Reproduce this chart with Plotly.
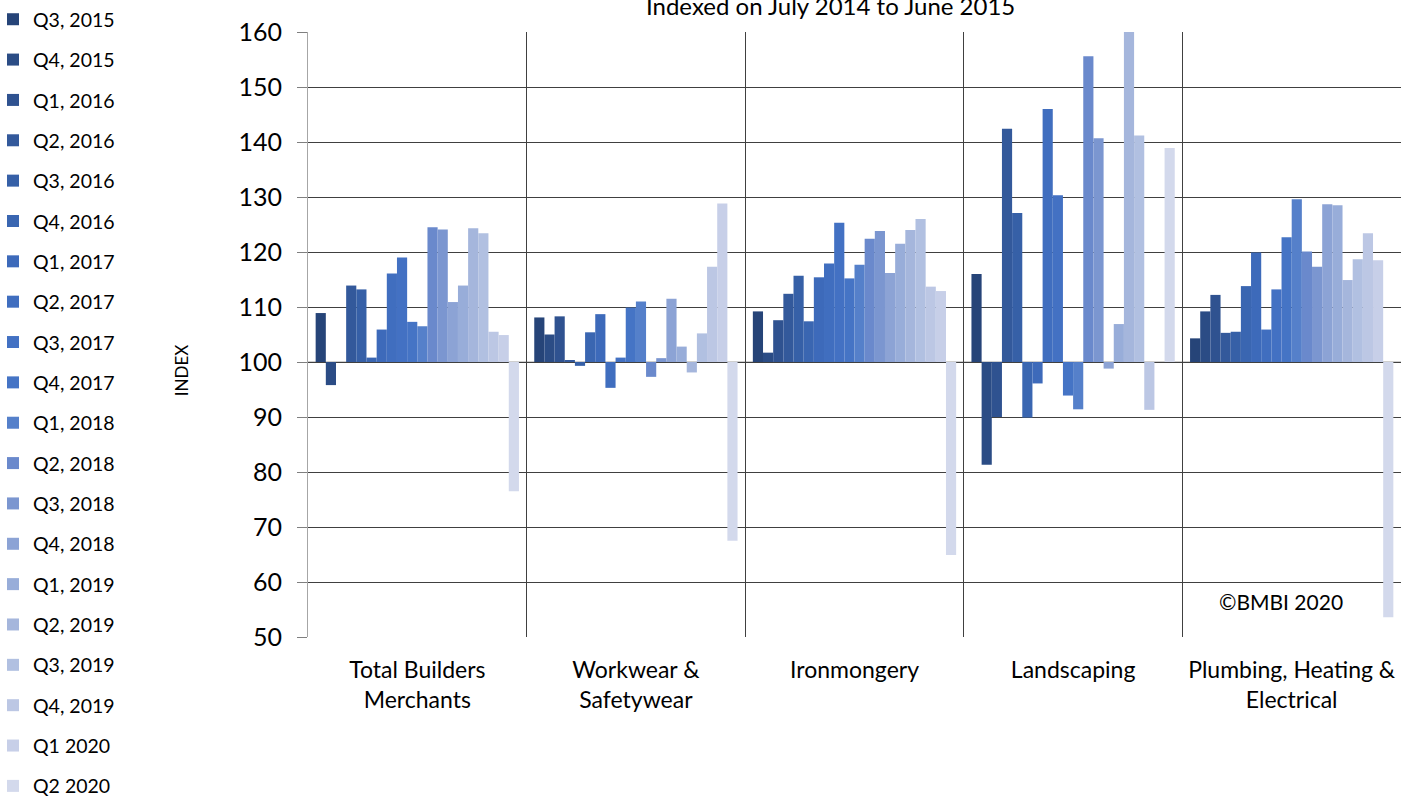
import plotly.graph_objects as go

categories = ["Total Builders<br>Merchants", "Workwear &<br>Safetywear", "Ironmongery",
              "Landscaping", "Plumbing, Heating &<br>Electrical"]

quarters = ["Q3, 2015", "Q4, 2015", "Q1, 2016", "Q2, 2016", "Q3, 2016", "Q4, 2016",
            "Q1, 2017", "Q2, 2017", "Q3, 2017", "Q4, 2017", "Q1, 2018", "Q2, 2018",
            "Q3, 2018", "Q4, 2018", "Q1, 2019", "Q2, 2019", "Q3, 2019", "Q4, 2019",
            "Q1 2020", "Q2 2020"]

total_builders = [108.9, 95.8, 100.0, 113.9, 113.2, 100.8, 105.9, 116.1, 119.0, 107.3,
                  106.5, 124.5, 124.1, 110.9, 113.9, 124.3, 123.4, 105.5, 104.9, 76.5]
workwear = [108.1, 105.0, 108.3, 100.3, 99.3, 105.4, 108.7, 95.3, 100.8, 109.9,
            111.0, 97.3, 100.7, 111.5, 102.8, 98.1, 105.2, 117.3, 128.8, 67.5]
ironmongery = [109.2, 101.7, 107.6, 112.4, 115.7, 107.4, 115.4, 117.9, 125.3, 115.2,
               117.7, 122.4, 123.8, 116.2, 121.5, 124.0, 126.0, 113.7, 112.9, 64.9]
landscaping = [116.0, 81.3, 90.0, 142.4, 127.1, 89.9, 96.1, 146.0, 130.3, 93.9,
               91.4, 155.6, 140.7, 98.8, 106.9, 162.0, 141.2, 91.3, 100.0, 138.9]
plumbing = [104.3, 109.2, 112.2, 105.3, 105.5, 113.8, 119.9, 105.9, 113.2, 122.7,
            129.6, 120.1, 117.3, 128.7, 128.5, 114.9, 118.7, 123.4, 118.5, 53.6]

colors = ["#264478", "#2B4C85", "#2F5290", "#33599B", "#3660A7", "#3A66B1",
          "#3D6ABA", "#406EBF", "#4371C3", "#4574C5", "#5580CA", "#6A89CC",
          "#7B96D0", "#8CA3D5", "#98ADD9", "#A5B6DC", "#B1C0E1", "#BCC7E4",
          "#C7CFE8", "#D3D9EC"]

BASE = 100
series_by_cat = [total_builders, workwear, ironmongery, landscaping, plumbing]

FONT = "Lato"
fig = go.Figure()
for i, q in enumerate(quarters):
    vals = [cat[i] for cat in series_by_cat]
    fig.add_trace(go.Bar(
        x=categories, y=[v - BASE for v in vals], base=BASE, name=q,
        legendgroup=q, marker=dict(color=colors[i], line=dict(width=0)),
        hovertext=[str(v) for v in vals],
    ))

fig.update_layout(
    width=1401, height=800,
    margin=dict(l=308, r=0, t=32, b=163, autoexpand=False),
    paper_bgcolor="white", plot_bgcolor="white",
    barmode="group", bargap=0.07, bargroupgap=0,
    font=dict(family=FONT, color="#000000"),
    showlegend=True,
    legend=dict(
        xref="paper", x=-0.2882, xanchor="left",
        yref="paper", y=1.0528, yanchor="top",
        font=dict(size=19.5, family=FONT, color="#000000"),
        tracegroupgap=12, maxheight=1200,
        bgcolor="rgba(0,0,0,0)", borderwidth=0,
    ),
    xaxis=dict(
        type="category", tickson="boundaries", showgrid=True,
        gridcolor="#404040", gridwidth=1, ticks="",
        showline=False, tickfont=dict(size=23, family=FONT, color="#000000"),
        ticklabelstandoff=17, tickangle=0,
        range=[-0.5, 4.5],
    ),
    yaxis=dict(
        range=[50, 160], dtick=10, tick0=50, showgrid=True,
        gridcolor="#404040", gridwidth=1,
        showline=True, linecolor="#A6A6A6", linewidth=1,
        ticks="outside", ticklen=10, tickcolor="#7F7F7F",
        tickfont=dict(size=25, family=FONT, color="#000000"),
        ticklabelstandoff=10,
        zeroline=False,
    ),
    shapes=[dict(type="line", xref="paper", x0=0, x1=1, yref="y", y0=BASE, y1=BASE,
                 line=dict(color="#BFBFBF", width=1.5), layer="between")],
    annotations=[
        dict(text="Indexed on July 2014 to June 2015", xref="paper", yref="paper",
             x=0.4776, y=1.043, xanchor="center", yanchor="middle", showarrow=False,
             font=dict(size=24, family=FONT, color="#000000")),
        dict(text="INDEX", xref="paper", yref="paper", x=-0.1162, y=0.441,
             textangle=-90, xanchor="center", yanchor="middle", showarrow=False,
             font=dict(size=17, family=FONT, color="#000000")),
        dict(text="©BMBI 2020", xref="paper", yref="paper", x=0.890, y=0.0595,
             xanchor="center", yanchor="middle", showarrow=False,
             font=dict(size=21, family=FONT, color="#000000")),
    ],
)

fig.write_html(
    "out.html",
    config={"displayModeBar": False},
    post_script="document.body.style.margin='0';document.body.style.overflow='hidden';",
)
